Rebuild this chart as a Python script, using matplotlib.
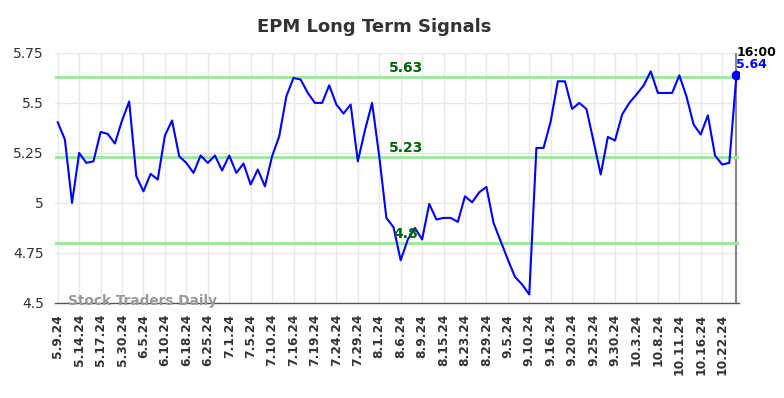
import numpy as np
import matplotlib
matplotlib.use("Agg")
import matplotlib.pyplot as plt

# ── Data ──────────────────────────────────────────────────────────────
prices = [
    5.403, 5.317, 5.000, 5.250, 5.200, 5.208, 5.355, 5.345, 5.297, 5.412,
    5.507, 5.133, 5.058, 5.145, 5.117, 5.337, 5.412, 5.233, 5.200, 5.150,
    5.237, 5.200, 5.237, 5.162, 5.237, 5.150, 5.197, 5.092, 5.167, 5.083,
    5.233, 5.333, 5.533, 5.625, 5.617, 5.550, 5.500, 5.500, 5.588, 5.492,
    5.447, 5.492, 5.208, 5.363, 5.500, 5.233, 4.925, 4.878, 4.713, 4.817,
    4.875, 4.817, 4.995, 4.917, 4.925, 4.925, 4.905, 5.033, 5.003, 5.053,
    5.080, 4.900, 4.808, 4.717, 4.630, 4.592, 4.542, 5.275, 5.275, 5.408,
    5.608, 5.608, 5.470, 5.500, 5.470, 5.308, 5.142, 5.330, 5.312, 5.442,
    5.500, 5.542, 5.587, 5.658, 5.550, 5.550, 5.550, 5.638, 5.533, 5.392,
    5.342, 5.438, 5.237, 5.192, 5.200, 5.640,
]
date_labels = [
    "5.9.24", "5.14.24", "5.17.24", "5.30.24", "6.5.24", "6.10.24", "6.18.24",
    "6.25.24", "7.1.24", "7.5.24", "7.10.24", "7.16.24", "7.19.24", "7.24.24",
    "7.29.24", "8.1.24", "8.6.24", "8.9.24", "8.15.24", "8.23.24", "8.29.24",
    "9.5.24", "9.10.24", "9.16.24", "9.20.24", "9.25.24", "9.30.24", "10.3.24",
    "10.8.24", "10.11.24", "10.16.24", "10.22.24",
]
signal_levels = [5.63, 5.23, 4.8]
signal_labels = ["5.63", "5.23", "4.8"]
last_time = "16:00"

x = np.arange(len(prices))
tick_pos = x[::3][:len(date_labels)]

# ── Chart ─────────────────────────────────────────────────────────────
fig = plt.figure(figsize=(7.84, 3.98), dpi=100)
ax = fig.add_axes([0.070, 0.239, 0.873, 0.628])

for lvl, lab in zip(signal_levels, signal_labels):
    ax.axhline(lvl, color="#90EE90", linewidth=2, zorder=2)
    ax.text(48.7, lvl + 0.008, lab, color="#006400", fontsize=10,
            fontweight="bold", ha="center", va="bottom", zorder=4)

ax.plot(x, prices, color="#0000FF", linewidth=1.5, zorder=3)
ax.plot(x[-1], prices[-1], "o", color="#0000FF", markersize=6, zorder=5)
ax.axvline(x[-1], color="#888888", linewidth=1.5, zorder=1)

ax.text(x[-1], 5.722, last_time, color="black", fontsize=9,
        fontweight="bold", ha="left", va="bottom", clip_on=False)
ax.text(x[-1], 5.66, f"{prices[-1]:.2f}", color="#0000FF", fontsize=9,
        fontweight="bold", ha="left", va="bottom")

ax.text(1.5, 4.51, "Stock Traders Daily", color="#999999", fontsize=9.8,
        fontweight="bold", ha="left", va="center", zorder=6)

ax.set_xlim(-0.4, len(prices) - 0.6)
ax.set_ylim(4.5, 5.75)
ax.set_yticks([4.5, 4.75, 5.0, 5.25, 5.5, 5.75])
ax.set_yticklabels(["4.5", "4.75", "5", "5.25", "5.5", "5.75"],
                   fontsize=10, color="#333333")
ax.set_xticks(tick_pos)
ax.set_xticklabels(date_labels, rotation=90, fontsize=8.8,
                   fontweight="bold", color="#333333")
ax.tick_params(length=0, pad=8)

ax.grid(True, color="#E8E8E8", linewidth=1, zorder=0)
ax.set_axisbelow(True)
for s in ["top", "right", "left"]:
    ax.spines[s].set_visible(False)
ax.spines["bottom"].set_color("#555555")
ax.spines["bottom"].set_linewidth(1)

fig.suptitle("EPM Long Term Signals", x=0.477, y=0.955, fontsize=13,
             fontweight="bold", color="#333333")

plt.savefig("out.png", dpi=100)
plt.close()
